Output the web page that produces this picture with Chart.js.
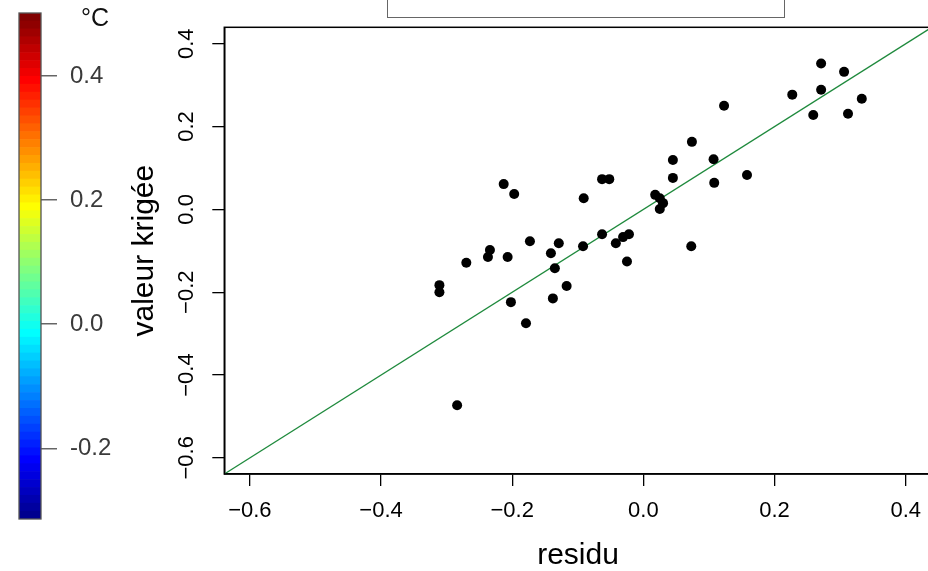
<!DOCTYPE html>
<html><head><meta charset="utf-8">
<script src="https://cdn.jsdelivr.net/npm/chart.js@4/dist/chart.umd.min.js"></script>
<style>
html,body{margin:0;padding:0;width:928px;height:571px;overflow:hidden;background:#fff;}
#cb{position:absolute;left:0;top:0;}
#main{position:absolute;left:130px;top:0;}
#box{position:absolute;left:387px;top:-10px;width:396px;height:26px;border:1px solid #666;}
</style></head><body>
<div id="box"></div>
<canvas id="cb" width="130" height="571"></canvas>
<canvas id="main" width="810" height="571"></canvas>
<script>
// ---- data ----
const residu = [-0.311,-0.311,-0.284,-0.270,-0.237,-0.234,-0.213,-0.207,-0.202,-0.197,
  -0.179,-0.173,-0.141,-0.138,-0.135,-0.129,-0.117,-0.091,-0.092,-0.063,
  -0.052,-0.063,-0.042,-0.031,-0.022,-0.025,0.018,0.025,0.030,0.025,
  0.045,0.045,0.073,0.074,0.107,0.108,0.123,0.158,0.227,0.259,
  0.271,0.271,0.306,0.312,0.333];
const valeurKrigee = [-0.183,-0.200,-0.473,-0.129,-0.115,-0.098,0.061,-0.115,-0.224,0.037,
  -0.275,-0.077,-0.106,-0.215,-0.142,-0.082,-0.185,0.027,-0.089,0.073,
  0.073,-0.060,-0.082,-0.067,-0.060,-0.126,0.035,0.027,0.015,0.001,
  0.119,0.076,-0.089,0.163,0.121,0.064,0.250,0.083,0.277,0.228,
  0.352,0.289,0.332,0.231,0.267];
const axisTicks = [-0.6,-0.4,-0.2,0.0,0.2,0.4];
const axisMin = -0.639, axisMax = 0.4396;
const identityLine = [-1, 1]; // y = x reference line

const cbColors = ["#00008F","#00009F","#0000AF","#0000BF","#0000CF","#0000DF","#0000EF","#0000FF",
 "#0010FF","#0020FF","#0030FF","#0040FF","#0050FF","#0060FF","#0070FF","#0080FF",
 "#008FFF","#009FFF","#00AFFF","#00BFFF","#00CFFF","#00DFFF","#00EFFF","#00FFFF",
 "#10FFEF","#20FFDF","#30FFCF","#40FFBF","#50FFAF","#60FF9F","#70FF8F","#80FF80",
 "#8FFF70","#9FFF60","#AFFF50","#BFFF40","#CFFF30","#DFFF20","#EFFF10","#FFFF00",
 "#FFEF00","#FFDF00","#FFCF00","#FFBF00","#FFAF00","#FF9F00","#FF8F00","#FF8000",
 "#FF7000","#FF6000","#FF5000","#FF4000","#FF3000","#FF2000","#FF1000","#FF0000",
 "#EF0000","#DF0000","#CF0000","#BF0000","#AF0000","#9F0000","#8F0000","#800000"];
const cbMin = -0.314, cbMax = 0.5016;
const cbTicks = [-0.2, 0.0, 0.2, 0.4];
const cbUnit = '°C';

const FONT = "'Liberation Sans', Arial, Helvetica, sans-serif";

// ---- colour bar ----
const step = (cbMax - cbMin) / cbColors.length;
const cbFrame = {
  id: 'cbFrame',
  afterDraw(chart) {
    const {ctx, chartArea: a} = chart;
    ctx.save();
    ctx.strokeStyle = '#555'; ctx.lineWidth = 1.3;
    ctx.strokeRect(a.left, a.top, a.right - a.left, a.bottom - a.top);
    ctx.fillStyle = '#111';
    ctx.font = '25px ' + FONT;
    ctx.textAlign = 'center'; ctx.textBaseline = 'middle';
    ctx.fillText(cbUnit, 95, 19);
    ctx.restore();
  }
};
new Chart(document.getElementById('cb'), {
  type: 'bar',
  data: {
    labels: [''],
    datasets: cbColors.map((c, i) => ({
      data: [[cbMin + i * step, cbMin + (i + 1) * step]],
      backgroundColor: c, borderWidth: 0,
      barPercentage: 1, categoryPercentage: 1, grouped: false
    }))
  },
  options: {
    responsive: false, animation: false,
    layout: {padding: {left: 19, top: 13, bottom: 52, right: 0}},
    plugins: {legend: {display: false}, tooltip: {enabled: false}},
    scales: {
      x: {display: false},
      y: {
        position: 'right', min: cbMin, max: cbMax,
        afterBuildTicks: s => { s.ticks = cbTicks.map(v => ({value: v})); },
        afterFit: s => { s.width = 89; s.paddingTop = 0; s.paddingBottom = 0; },
        grid: {drawOnChartArea: false, drawTicks: true, tickLength: 16, color: '#666', lineWidth: 1.5},
        border: {display: false},
        ticks: {font: {family: FONT, size: 24}, color: '#3a3a3a', padding: 13,
          callback: v => (Math.abs(v) < 1e-9 ? '0.0' : v.toFixed(1))}
      }
    }
  },
  plugins: [cbFrame]
});

// ---- main scatter ----
const fmt = v => (Math.abs(v) < 1e-9 ? '0.0' : v.toFixed(1).replace('-', '\u2212'));
const frame = {
  id: 'frame',
  afterDraw(chart) {
    const {ctx, chartArea: a} = chart;
    ctx.save();
    ctx.strokeStyle = '#000'; ctx.lineWidth = 1.5;
    ctx.strokeRect(a.left, a.top, a.right - a.left, a.bottom - a.top);
    ctx.restore();
  }
};
new Chart(document.getElementById('main'), {
  type: 'scatter',
  data: {
    datasets: [
      {data: residu.map((x, i) => ({x: x, y: valeurKrigee[i]})),
       backgroundColor: '#000', borderWidth: 0, pointRadius: 5, pointHoverRadius: 5},
      {data: identityLine.map(v => ({x: v, y: v})), showLine: true,
       borderColor: '#1f8a3d', borderWidth: 1.3, pointRadius: 0, fill: false}
    ]
  },
  options: {
    responsive: false, animation: false,
    layout: {padding: {left: 0, top: 27.3, right: 8.3, bottom: 0}},
    plugins: {legend: {display: false}, tooltip: {enabled: false}},
    scales: {
      x: {
        type: 'linear', min: axisMin, max: axisMax,
        afterBuildTicks: s => { s.ticks = axisTicks.map(v => ({value: v})); },
        afterFit: s => { s.height = 97; },
        grid: {drawOnChartArea: false, drawTicks: true, tickLength: 12, color: '#000', lineWidth: 1.3},
        border: {display: true, color: '#000', width: 1.5},
        ticks: {font: {family: FONT, size: 22}, color: '#000', padding: 12, maxRotation: 0, autoSkip: false,
          callback: v => fmt(v)},
        title: {display: true, text: 'residu', color: '#000',
          font: {family: FONT, size: 30, lineHeight: 1}, padding: {top: 0, bottom: 0}}
      },
      y: {
        type: 'linear', min: axisMin, max: axisMax,
        afterBuildTicks: s => { s.ticks = axisTicks.map(v => ({value: v})); },
        afterFit: s => { s.width = 94.3; s.paddingTop = 0; s.paddingBottom = 0; },
        grid: {drawOnChartArea: false, drawTicks: true, tickLength: 12, color: '#000', lineWidth: 1.3},
        border: {display: true, color: '#000', width: 1.5},
        ticks: {font: {family: FONT, size: 22}, color: '#000', padding: 4, minRotation: 90, maxRotation: 90,
          crossAlign: 'center', autoSkip: false, callback: v => fmt(v)},
        title: {display: true, text: 'valeur krigée', color: '#000',
          font: {family: FONT, size: 30, lineHeight: 1}, padding: {top: 0, bottom: 0}}
      }
    }
  },
  plugins: [frame]
});
</script>
</body></html>
